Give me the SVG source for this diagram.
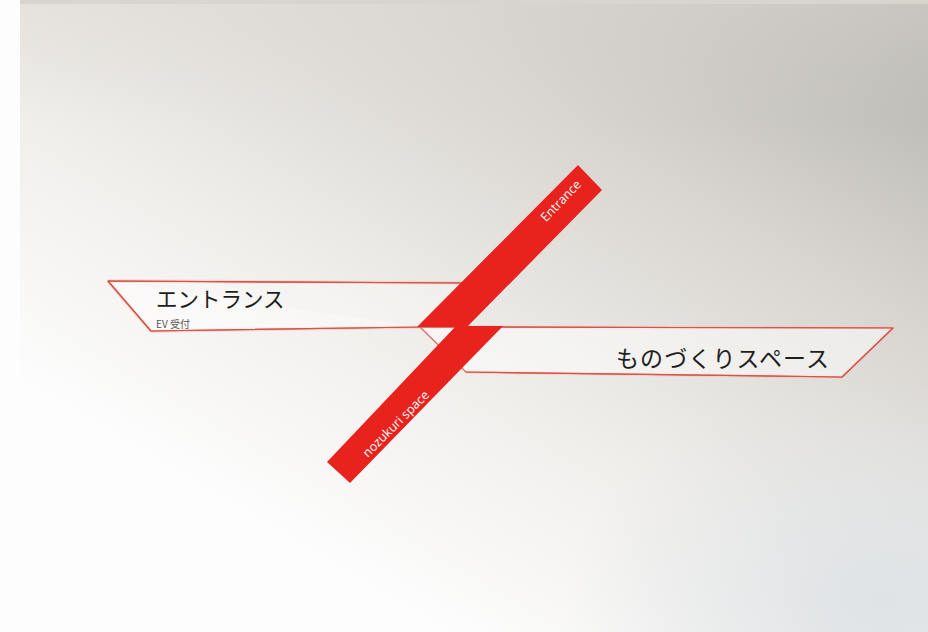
<svg xmlns="http://www.w3.org/2000/svg" width="928" height="632" viewBox="0 0 928 632">
  <defs>
    <linearGradient id="bg" x1="1" y1="0" x2="0.15" y2="1">
      <stop offset="0" stop-color="#b4b2ac"/>
      <stop offset="0.3" stop-color="#d8d5d0"/>
      <stop offset="0.6" stop-color="#f1efec"/>
      <stop offset="0.85" stop-color="#fdfdfd"/>
      <stop offset="1" stop-color="#fdfdfd"/>
    </linearGradient>
    <linearGradient id="topfade" x1="0" y1="0" x2="0" y2="1">
      <stop offset="0" stop-color="#e2ded8" stop-opacity="0.9"/>
      <stop offset="1" stop-color="#e2ded8" stop-opacity="0"/>
    </linearGradient>
    <radialGradient id="br" cx="0.95" cy="0.95" r="0.35">
      <stop offset="0" stop-color="#dfe3e6"/>
      <stop offset="1" stop-color="#dfe3e6" stop-opacity="0"/>
    </radialGradient>
    <style>
      .halo { fill: none; stroke: #f2c4bc; stroke-width: 3.5; stroke-opacity: 0.6; stroke-linejoin: round; }
      .band { fill: #ffffff; fill-opacity: 0.3; stroke: #d2554a; stroke-width: 1.2; stroke-linejoin: round; }
      .jp { font-family: "Noto Sans CJK JP", "Noto Sans", sans-serif; fill: #1e1e1e; }
      .small { font-family: "Noto Sans CJK JP", "Noto Sans", sans-serif; fill: #555; font-size: 10px; }
      .red { fill: #e8221c; }
      .wlabel { font-family: "Open Sans", "Liberation Sans", sans-serif; fill: #ffffff; font-size: 12.5px; }
    </style>
  </defs>

  <rect x="0" y="0" width="928" height="632" fill="#fdfdfd"/>
  <rect x="20" y="3" width="908" height="629" fill="url(#bg)"/>
  <rect x="20" y="3" width="908" height="120" fill="url(#topfade)" opacity="0.5"/>
  <rect x="20" y="3" width="908" height="629" fill="url(#br)"/>
  <rect x="20" y="0" width="908" height="4" fill="#d8d4ce"/>

  <g id="band-entrance">
    <path class="halo" d="M108,281 L462,283 M108,281 L151,331 L420,327"/>
    <path class="band" d="M108,281 L462,283 L420,327 L151,331 Z" stroke="none"/>
    <path class="band" fill="none" d="M108,281 L462,283 M108,281 L151,331 L420,327"/>
    <text class="jp" x="156" y="307" font-size="21.5">エントランス</text>
    <text class="small" x="156" y="328">EV 受付</text>
  </g>

  <g id="band-monozukuri">
    <path class="halo" d="M420,327 L893,328 L842,377 L466,372"/>
    <path class="band" d="M420,327 L893,328 L842,377 L466,372 Z" stroke="none"/>
    <path class="band" fill="none" d="M420,327 L893,328 L842,377 L466,372"/>
    <text class="jp" x="616" y="367" font-size="23" letter-spacing="1.1">ものづくりスペース</text>
  </g>

  <g id="connectors">
    <polygon class="red" points="578,165 602,190 468,326 503,326 350,483 327,462 455,327 417,327"/>
    <text class="wlabel" transform="translate(561,201) rotate(-46)" text-anchor="middle" dy="4">Entrance</text>
    <text class="wlabel" transform="translate(396,424) rotate(-45)" text-anchor="middle" dy="4">nozukuri space</text>
  </g>
</svg>
